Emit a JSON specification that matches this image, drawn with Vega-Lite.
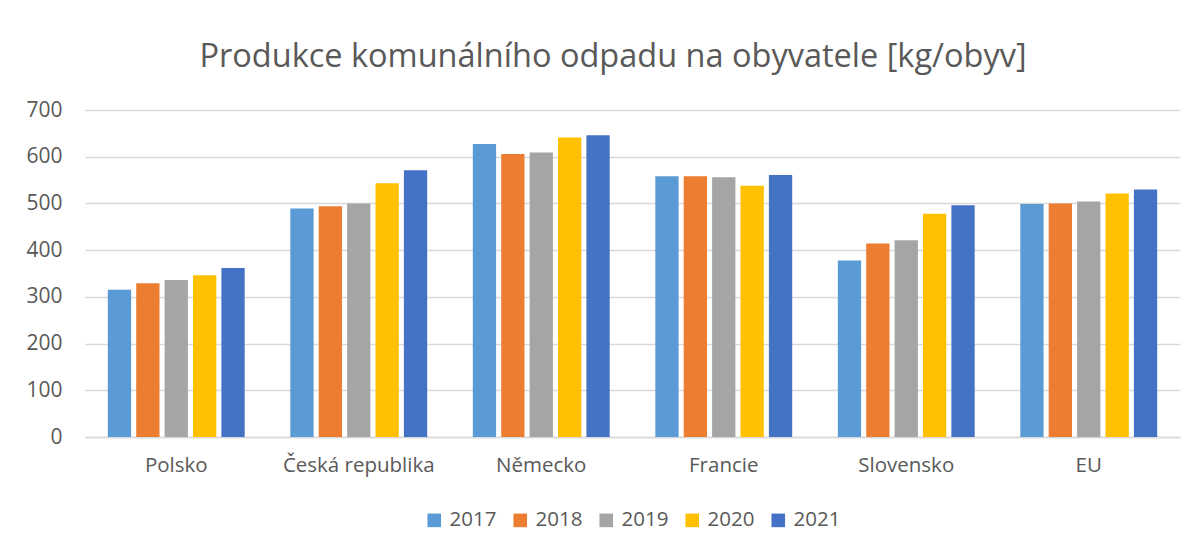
{
  "$schema": "https://vega.github.io/schema/vega-lite/v6.json",
  "width": 1095,
  "height": 327,
  "autosize": {"type": "none"},
  "padding": {"left": 85, "top": 110, "right": 23, "bottom": 117},
  "background": "white",
  "title": {
    "text": "Produkce komunálního odpadu na obyvatele [kg/obyv]",
    "font": "Open Sans",
    "fontSize": 32.5,
    "fontWeight": "normal",
    "color": "#595959",
    "anchor": "middle",
    "frame": "bounds",
    "dx": 10,
    "offset": 26
  },
  "data": {
    "values": [
      {"zeme": "Polsko", "rok": "2017", "hodnota": 315},
      {"zeme": "Polsko", "rok": "2018", "hodnota": 329},
      {"zeme": "Polsko", "rok": "2019", "hodnota": 336},
      {"zeme": "Polsko", "rok": "2020", "hodnota": 346},
      {"zeme": "Polsko", "rok": "2021", "hodnota": 362},
      {"zeme": "Česká republika", "rok": "2017", "hodnota": 489},
      {"zeme": "Česká republika", "rok": "2018", "hodnota": 494},
      {"zeme": "Česká republika", "rok": "2019", "hodnota": 500},
      {"zeme": "Česká republika", "rok": "2020", "hodnota": 543},
      {"zeme": "Česká republika", "rok": "2021", "hodnota": 571},
      {"zeme": "Německo", "rok": "2017", "hodnota": 627},
      {"zeme": "Německo", "rok": "2018", "hodnota": 606},
      {"zeme": "Německo", "rok": "2019", "hodnota": 609},
      {"zeme": "Německo", "rok": "2020", "hodnota": 641},
      {"zeme": "Německo", "rok": "2021", "hodnota": 646},
      {"zeme": "Francie", "rok": "2017", "hodnota": 558},
      {"zeme": "Francie", "rok": "2018", "hodnota": 558},
      {"zeme": "Francie", "rok": "2019", "hodnota": 556},
      {"zeme": "Francie", "rok": "2020", "hodnota": 538},
      {"zeme": "Francie", "rok": "2021", "hodnota": 561},
      {"zeme": "Slovensko", "rok": "2017", "hodnota": 378},
      {"zeme": "Slovensko", "rok": "2018", "hodnota": 414},
      {"zeme": "Slovensko", "rok": "2019", "hodnota": 421},
      {"zeme": "Slovensko", "rok": "2020", "hodnota": 478},
      {"zeme": "Slovensko", "rok": "2021", "hodnota": 496},
      {"zeme": "EU", "rok": "2017", "hodnota": 499},
      {"zeme": "EU", "rok": "2018", "hodnota": 500},
      {"zeme": "EU", "rok": "2019", "hodnota": 504},
      {"zeme": "EU", "rok": "2020", "hodnota": 521},
      {"zeme": "EU", "rok": "2021", "hodnota": 530}
    ]
  },
  "mark": {"type": "bar"},
  "encoding": {
    "x": {
      "field": "zeme",
      "type": "nominal",
      "sort": null,
      "scale": {"paddingInner": 0.25, "paddingOuter": 0.125},
      "axis": {
        "title": null,
        "labelAngle": 0,
        "ticks": false,
        "domainColor": "#d9d9d9",
        "domainWidth": 1.5,
        "labelFont": "Open Sans",
        "labelFontSize": 20.5,
        "labelColor": "#595959",
        "labelPadding": 18
      }
    },
    "xOffset": {
      "field": "rok",
      "type": "nominal",
      "scale": {"paddingInner": 0.18}
    },
    "y": {
      "field": "hodnota",
      "type": "quantitative",
      "scale": {"domain": [0, 700]},
      "axis": {
        "title": null,
        "values": [0, 100, 200, 300, 400, 500, 600, 700],
        "ticks": false,
        "domain": false,
        "gridColor": "#d9d9d9",
        "gridWidth": 1.5,
        "labelFont": "Open Sans",
        "labelFontSize": 21,
        "labelColor": "#595959",
        "labelPadding": 23
      }
    },
    "color": {
      "field": "rok",
      "type": "nominal",
      "scale": {
        "domain": ["2017", "2018", "2019", "2020", "2021"],
        "range": ["#5B9BD5", "#ED7D31", "#A5A5A5", "#FFC000", "#4472C4"]
      },
      "legend": {
        "title": null,
        "orient": "bottom",
        "direction": "horizontal",
        "symbolType": "square",
        "symbolSize": 185,
        "symbolStrokeWidth": 0,
        "labelFont": "Open Sans",
        "labelFontSize": 20.5,
        "labelColor": "#595959",
        "labelOffset": 5,
        "columnPadding": 13,
        "offset": 34
      }
    }
  },
  "config": {
    "view": {"stroke": null},
    "legend": {"layout": {"bottom": {"anchor": "middle"}}}
  }
}
